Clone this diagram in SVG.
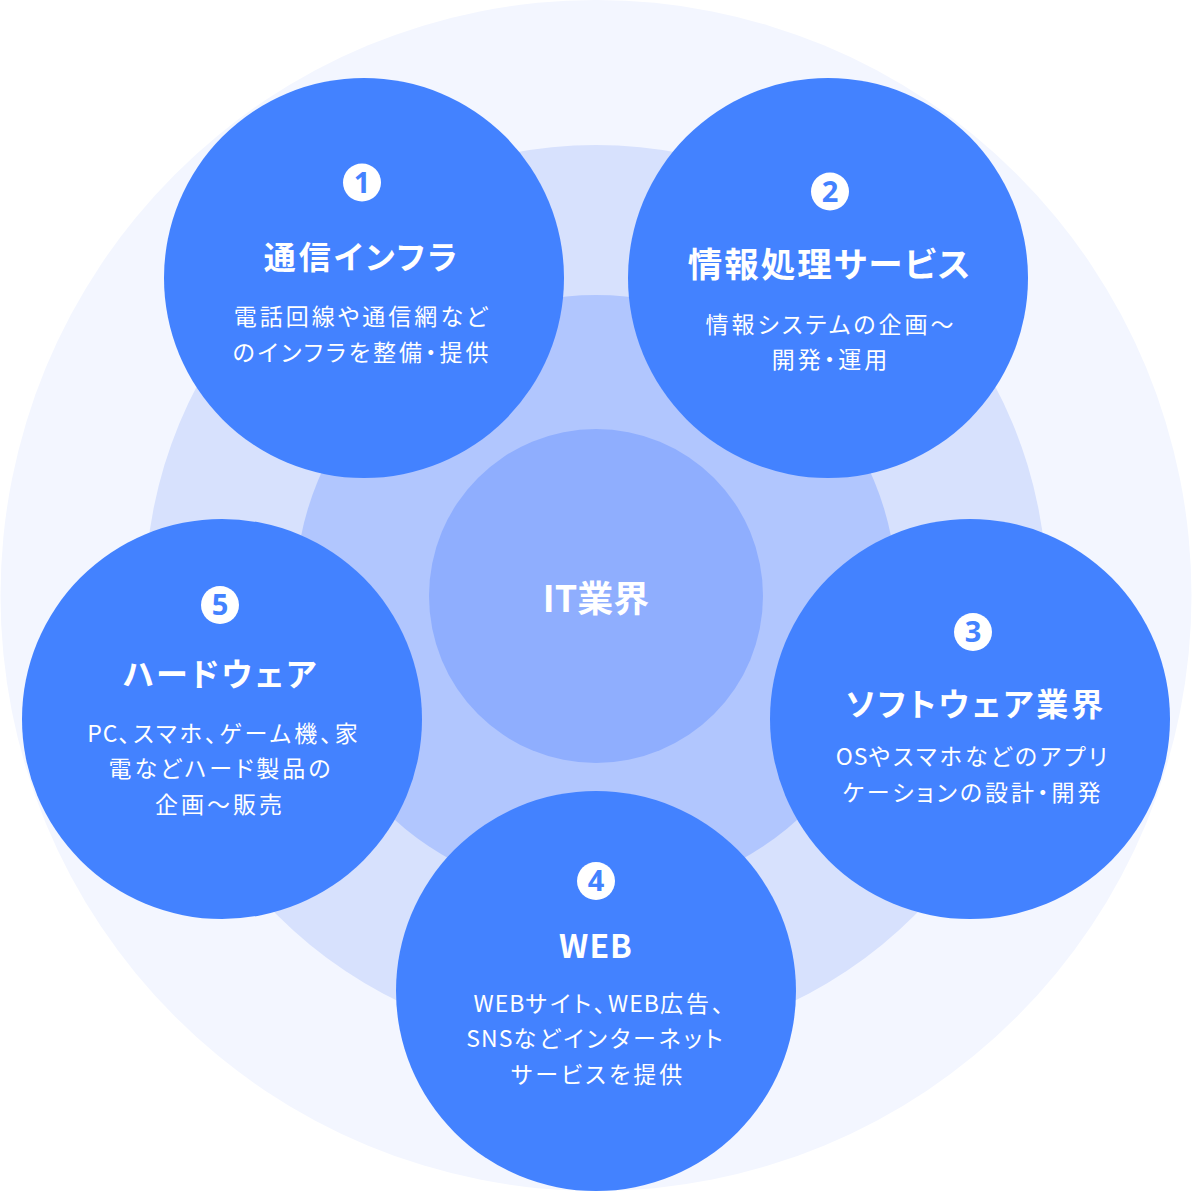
<svg xmlns="http://www.w3.org/2000/svg" width="1192" height="1191" viewBox="0 0 1192 1191">
<style>
.node{fill:#4382FF}
.badge{fill:#FFFFFF}
.num{font-family:"Noto Sans","Liberation Sans",sans-serif;font-weight:700;font-size:29px;fill:#4382FF;text-anchor:middle}
.title{font-family:"Noto Sans CJK JP","Noto Sans",sans-serif;font-weight:700;font-size:32px;fill:#FFFFFF;text-anchor:middle;letter-spacing:3px;font-feature-settings:"palt"}
.body{font-family:"Noto Sans CJK JP","Noto Sans",sans-serif;font-weight:400;font-size:23px;fill:#FFFFFF;text-anchor:middle;letter-spacing:3px;font-feature-settings:"palt"}
.lat{letter-spacing:1px}
.center{font-family:"Noto Sans CJK JP","Noto Sans",sans-serif;font-weight:700;font-size:36px;fill:#FFFFFF;text-anchor:middle}
</style>
<rect width="1192" height="1191" fill="#FFFFFF"/>
<g id="rings">
<circle cx="596" cy="595.5" r="595.5" fill="#F3F6FF"/>
<circle cx="596" cy="596" r="451" fill="#D7E1FD"/>
<circle cx="596" cy="596" r="301" fill="#B1C6FE"/>
</g>
<g id="center">
<circle cx="596" cy="596" r="167" fill="#8FAEFE"/>
<text class="center" x="596" y="612">IT業界</text>
</g>
<g id="node1">
<circle class="node" cx="364" cy="278" r="200"/>
<circle class="badge" cx="362" cy="182.5" r="19"/>
<text class="num" x="362" y="192.5">1</text>
<text class="title" x="362" y="269">通信インフラ</text>
<text class="body" x="362" y="325">電話回線や通信網など</text>
<text class="body" x="362" y="361">のインフラを整備・提供</text>
</g>
<g id="node2">
<circle class="node" cx="828" cy="278" r="200"/>
<circle class="badge" cx="830" cy="191.5" r="19"/>
<text class="num" x="830" y="201.5">2</text>
<text class="title" x="830" y="277" style="font-size:34.5px;letter-spacing:2px">情報処理サービス</text>
<text class="body" x="831" y="333">情報システムの企画〜</text>
<text class="body" x="831" y="368">開発・運用</text>
</g>
<g id="node3">
<circle class="node" cx="970" cy="719" r="200"/>
<circle class="badge" cx="973" cy="632" r="19"/>
<text class="num" x="973" y="642">3</text>
<text class="title" x="976" y="716">ソフトウェア業界</text>
<text class="body" x="973" y="765"><tspan class="lat">OS</tspan>やスマホなどのアプリ</text>
<text class="body" x="973" y="801">ケーションの設計・開発</text>
</g>
<g id="node4">
<circle class="node" cx="596" cy="991" r="200"/>
<circle class="badge" cx="596" cy="881" r="19"/>
<text class="num" x="596" y="891">4</text>
<text class="title" x="596" y="958" style="letter-spacing:1px">WEB</text>
<text class="body" x="600" y="1012"><tspan class="lat">WEB</tspan>サイト、<tspan class="lat">WEB</tspan>広告、</text>
<text class="body" x="596" y="1047"><tspan class="lat">SNS</tspan>などインターネット</text>
<text class="body" x="598" y="1083">サービスを提供</text>
</g>
<g id="node5">
<circle class="node" cx="222" cy="719" r="200"/>
<circle class="badge" cx="220" cy="605" r="19"/>
<text class="num" x="220" y="615">5</text>
<text class="title" x="221" y="686">ハードウェア</text>
<text class="body" x="224" y="742"><tspan class="lat">PC</tspan>、スマホ、ゲーム機、家</text>
<text class="body" x="221" y="777">電などハード製品の</text>
<text class="body" x="220" y="813">企画〜販売</text>
</g>
</svg>
